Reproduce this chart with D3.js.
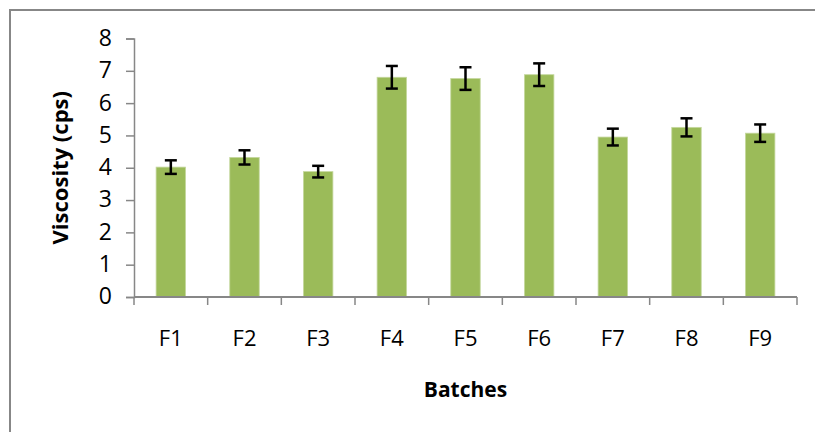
<!DOCTYPE html>
<html>
<head>
<meta charset="utf-8">
<script src="https://cdn.jsdelivr.net/npm/d3@7"></script>
<style>
  html, body { margin: 0; padding: 0; background: #fff; }
  svg { display: block; }
</style>
</head>
<body>
<svg id="chart" width="815" height="432"></svg>
<script>
// data
const batches = ["F1", "F2", "F3", "F4", "F5", "F6", "F7", "F8", "F9"];
const viscosity = [4.02, 4.32, 3.88, 6.80, 6.76, 6.88, 4.95, 5.25, 5.07];
const errors = [0.21, 0.22, 0.18, 0.35, 0.35, 0.35, 0.26, 0.28, 0.27];
const yTicks = [0, 1, 2, 3, 4, 5, 6, 7, 8];

const svg = d3.select("#chart");
const font = "'Open Sans', 'Noto Sans', sans-serif";

// outer chart frame (runs off the right and bottom edges)
svg.append("path")
    .attr("d", "M10,432 V10 H815")
    .attr("fill", "none")
    .attr("stroke", "#878787")
    .attr("stroke-width", 2);

const plotLeft = 134, plotRight = 797, plotTop = 38.5, plotBottom = 297;

const x = d3.scaleBand()
    .domain(batches)
    .range([plotLeft, plotRight])
    .paddingInner(0.6)
    .paddingOuter(0.3);

// band for the category ticks (no padding)
const xTick = d3.scaleBand().domain(batches).range([plotLeft, plotRight]);

const y = d3.scaleLinear().domain([0, 8]).range([plotBottom, plotTop]);

const g = svg.append("g");

// bars
g.selectAll("rect.bar")
    .data(batches)
    .enter()
    .append("rect")
    .attr("class", "bar")
    .attr("x", d => x(d))
    .attr("width", x.bandwidth())
    .attr("y", (d, i) => y(viscosity[i]))
    .attr("height", (d, i) => plotBottom - y(viscosity[i]))
    .attr("fill", "#9bbb59")
    .attr("stroke", "#c5d89f")
    .attr("stroke-width", 0.8);

// error bars
const eb = g.selectAll("g.err")
    .data(batches)
    .enter()
    .append("g")
    .attr("class", "err")
    .attr("stroke", "#000")
    .attr("stroke-width", 2.5);

const cx = d => x(d) + x.bandwidth() / 2;
eb.append("line")
    .attr("x1", cx).attr("x2", cx)
    .attr("y1", (d, i) => y(viscosity[i] + errors[i]))
    .attr("y2", (d, i) => y(viscosity[i] - errors[i]));
eb.append("line")
    .attr("x1", d => cx(d) - 6).attr("x2", d => cx(d) + 6)
    .attr("y1", (d, i) => y(viscosity[i] + errors[i]))
    .attr("y2", (d, i) => y(viscosity[i] + errors[i]));
eb.append("line")
    .attr("x1", d => cx(d) - 6).attr("x2", d => cx(d) + 6)
    .attr("y1", (d, i) => y(viscosity[i] - errors[i]))
    .attr("y2", (d, i) => y(viscosity[i] - errors[i]));

// y axis
const yAxis = g.append("g")
    .attr("transform", `translate(${plotLeft},0)`)
    .call(d3.axisLeft(y).tickValues(yTicks).tickSize(8).tickPadding(14));
yAxis.select(".domain").attr("stroke", "#878787").attr("stroke-width", 1.5);
yAxis.selectAll(".tick line").attr("stroke", "#878787").attr("stroke-width", 1.5);
yAxis.selectAll(".tick text")
    .attr("font-family", font)
    .attr("font-size", 23)
    .attr("dy", "0.3em")
    .attr("fill", "#000");

// x axis
const xAxis = g.append("g")
    .attr("transform", `translate(0,${plotBottom})`);
xAxis.append("line")
    .attr("x1", plotLeft).attr("x2", plotRight)
    .attr("stroke", "#878787").attr("stroke-width", 2);
const edges = batches.map(d => xTick(d)).concat([plotRight]);
xAxis.selectAll("line.tk")
    .data(edges)
    .enter()
    .append("line")
    .attr("class", "tk")
    .attr("x1", d => d).attr("x2", d => d)
    .attr("y1", 0).attr("y2", 8)
    .attr("stroke", "#878787").attr("stroke-width", 1.5);
xAxis.selectAll("text")
    .data(batches)
    .enter()
    .append("text")
    .attr("x", d => xTick(d) + xTick.bandwidth() / 2)
    .attr("y", 49)
    .attr("text-anchor", "middle")
    .attr("font-family", font)
    .attr("font-size", 22)
    .attr("fill", "#000")
    .text(d => d);

// axis titles
svg.append("text")
    .attr("transform", `translate(68,${(plotTop + plotBottom) / 2}) rotate(-90)`)
    .attr("text-anchor", "middle")
    .attr("font-family", font)
    .attr("font-weight", "bold")
    .attr("font-size", 22)
    .text("Viscosity (cps)");

svg.append("text")
    .attr("x", (plotLeft + plotRight) / 2)
    .attr("y", 397)
    .attr("text-anchor", "middle")
    .attr("font-family", font)
    .attr("font-weight", "bold")
    .attr("font-size", 21)
    .text("Batches");
</script>
</body>
</html>
